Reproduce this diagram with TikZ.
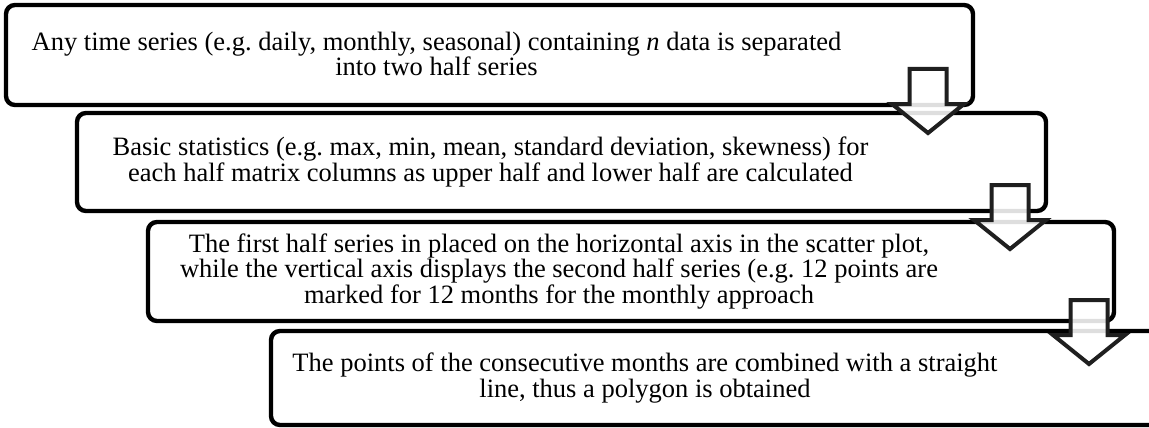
\documentclass[tikz,border=0pt]{standalone}
\usepackage{fontspec}
\setmainfont{Liberation Serif}
\frenchspacing

\begin{document}
\begin{tikzpicture}[x=1pt, y=-1pt,
    stepbox/.style={rectangle, draw, line width=4.4pt, rounded corners=9pt, inner sep=0pt},
    steptext/.style={align=center, inner sep=0pt, font=\fontsize{26.5}{22}\selectfont},
    blockarrow/.style={draw=black!88, line width=4pt, fill=white, fill opacity=0.87, line join=miter},
    downarrow/.pic={\draw[blockarrow] (-18.5,0) -- (18.5,0) -- (18.5,35) -- (36,35) -- (0,64) -- (-36,35) -- (-18.5,35) -- cycle;}
  ]
  \useasboundingbox (0,0) rectangle (1149,428);
  \clip (0,0) rectangle (1149,428);

  % steps
  \node[stepbox, minimum width=967pt, minimum height=100pt] (box1) at (489.5,55) {};
  \node[stepbox, minimum width=969pt, minimum height=98pt] (box2) at (561.5,162) {};
  \node[stepbox, minimum width=966pt, minimum height=99pt] (box3) at (631,271.5) {};
  \node[stepbox, minimum width=969pt, minimum height=94pt] (box4) at (755.5,378) {};

  \node[steptext] (txt1) at (436.5,54) {Any time series (e.g. daily, monthly, seasonal) containing \textit{n} data is separated\\into two half series};
  \node[steptext] (txt2) at (490.5,162) {Basic statistics (e.g. max, min, mean, standard deviation, skewness) for\\each half matrix columns as upper half and lower half are calculated};
  \node[steptext] (txt3) at (559,271.5) {The first half series in placed on the horizontal axis in the scatter plot,\\while the vertical axis displays the second half series (e.g. 12 points are\\marked for 12 months for the monthly approach};
  \node[steptext] (txt4) at (645,378) {The points of the consecutive months are combined with a straight\\line, thus a polygon is obtained};

  % arrows between steps
  \pic at (928,69) {downarrow};
  \pic at (1010,185) {downarrow};
  \pic at (1089,300) {downarrow};
\end{tikzpicture}
\end{document}
